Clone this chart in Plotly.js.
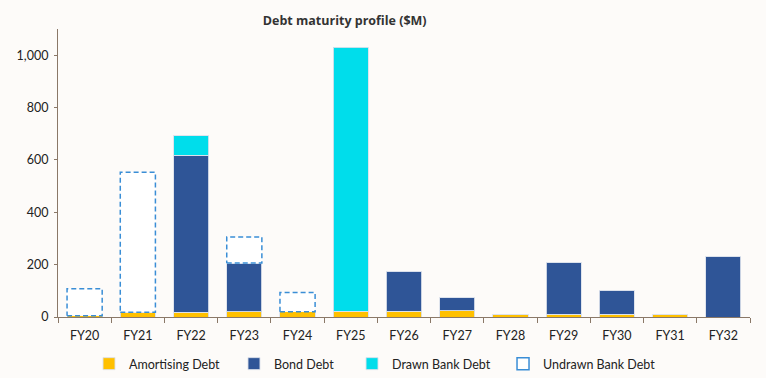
<!DOCTYPE html>
<html>
<head>
<meta charset="utf-8">
<script src="https://cdn.plot.ly/plotly-3.0.1.min.js"></script>
<style>html,body{margin:0;padding:0;background:#fdfbf9;}#chart{width:766px;height:378px;}</style>
</head>
<body>
<div id="chart"></div>
<script>
const categories = ["FY20","FY21","FY22","FY23","FY24","FY25","FY26","FY27","FY28","FY29","FY30","FY31","FY32"];
const amortisingDebt = [5, 18, 19, 20, 20, 22, 22, 24, 11, 10, 10, 11, 0];
const bondDebt       = [0, 0, 598, 186, 0, 0, 153, 50, 0, 198, 93, 0, 231];
const drawnBankDebt  = [0, 0, 76, 0, 0, 1008, 0, 0, 0, 0, 0, 0, 0];
const undrawnBankDebt= [103, 535, 0, 100, 74, 0, 0, 0, 0, 0, 0, 0, 0];

const idx = categories.map((_, i) => i);
const halfW = 0.33;
const font = "Lato, 'Open Sans', sans-serif";

// dashed rectangles for undrawn debt built from data
const ux = [], uy = [];
categories.forEach((c, i) => {
  if (undrawnBankDebt[i] > 0) {
    const base = amortisingDebt[i] + bondDebt[i] + drawnBankDebt[i];
    const top = base + undrawnBankDebt[i];
    ux.push(i - halfW, i + halfW, i + halfW, i - halfW, i - halfW, null);
    uy.push(base, base, top, top, base, null);
  }
});

const barLine = {color: 'rgba(220,225,235,0.9)', width: 1};
const traces = [
  {type: 'bar', name: 'Amortising Debt', x: idx, y: amortisingDebt, marker: {color: '#FFC000', line: barLine}, legend: 'legend'},
  {type: 'bar', name: 'Bond Debt', x: idx, y: bondDebt, marker: {color: '#2F5597', line: barLine}, legend: 'legend2'},
  {type: 'bar', name: 'Drawn Bank Debt', x: idx, y: drawnBankDebt, marker: {color: '#00DDEB', line: barLine}, legend: 'legend3'},
  {type: 'scatter', name: 'Undrawn Bank Debt', x: ux, y: uy, mode: 'lines', fill: 'toself', showlegend: false,
   fillcolor: '#ffffff', line: {color: '#3a8ed6', width: 1.5, dash: '5px,3px'}, hoverinfo: 'skip'},
  {type: 'bar', name: 'Undrawn Bank Debt', x: [null], y: [null], legend: 'legend4',
   marker: {color: '#ffffff', line: {color: '#3a8ed6', width: 1.5}}}
];

const legBase = {orientation: 'h', xanchor: 'left', yref: 'container', y: 0.037, yanchor: 'middle', traceorder: 'normal',
                 font: {family: font, size: 12.5, color: '#222'}, itemwidth: 30, bgcolor: 'rgba(0,0,0,0)'};

const layout = {
  width: 766, height: 378,
  paper_bgcolor: '#fdfbf9', plot_bgcolor: '#fdfbf9',
  margin: {l: 58, r: 16, t: 29, b: 61, autoexpand: false},
  barmode: 'stack', bargap: 0.34,
  font: {family: font, size: 12, color: '#222'},
  title: {text: '<b>Debt maturity profile ($M)</b>', x: 0.45, xanchor: 'center', y: 0.945, yanchor: 'middle',
          font: {family: "'Open Sans', sans-serif", size: 12.5, color: '#333'}},
  xaxis: {
    range: [-0.5, 12.5], tickvals: idx, ticktext: categories, ticks: '', showgrid: false, zeroline: false,
    showline: true, linecolor: '#8a7868', linewidth: 1.2, ticklabelstandoff: 7,
    minor: {tickvals: idx.map(i => i - 0.5).concat([12.5]), ticks: 'outside', ticklen: 5, tickcolor: '#8a7868', showgrid: false},
    tickfont: {family: font, size: 12.5, color: '#222'}
  },
  yaxis: {
    range: [0, 1100], tickvals: [0, 200, 400, 600, 800, 1000], tickformat: ',', showgrid: false, zeroline: false,
    showline: true, linecolor: '#8a7868', linewidth: 1.2, ticks: 'outside', ticklen: 3, tickcolor: '#8a7868',
    ticklabelstandoff: 3,
    tickfont: {family: font, size: 12.5, color: '#222'}
  },
  showlegend: true,
  legend: Object.assign({}, legBase, {x: 0.0448}),
  legend2: Object.assign({}, legBase, {x: 0.2543}),
  legend3: Object.assign({}, legBase, {x: 0.4249}),
  legend4: Object.assign({}, legBase, {x: 0.6431})
};

Plotly.newPlot('chart', traces, layout, {displayModeBar: false});
</script>
</body>
</html>
